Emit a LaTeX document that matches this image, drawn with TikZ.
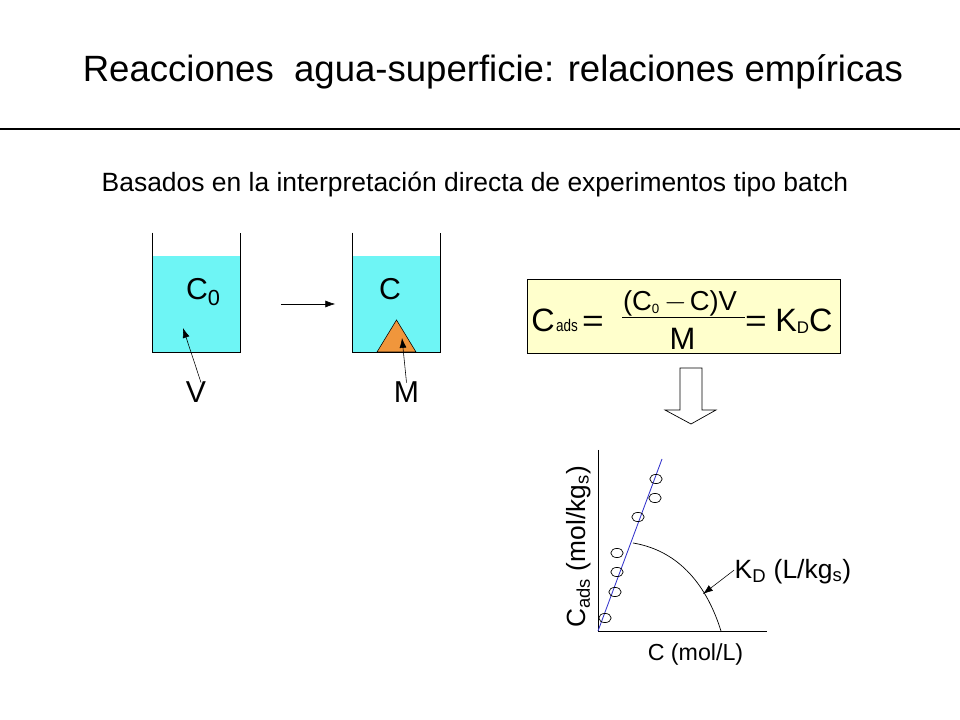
\documentclass[tikz,border=0pt]{standalone}
\usepackage{fontspec}
\setmainfont{Liberation Sans}
\usetikzlibrary{positioning,arrows,arrows.meta,calc}
\definecolor{watercol}{RGB}{110,245,245}
\definecolor{solidcol}{RGB}{240,150,60}
\definecolor{boxcol}{RGB}{255,255,204}
\definecolor{fitcol}{RGB}{51,51,204}

\begin{document}
\begin{tikzpicture}[x=0.025cm,y=-0.025cm,>={Latex[length=7pt,width=5pt]}]
\tikzstyle{title}=[font=\fontsize{26}{30}\selectfont,anchor=base]
\tikzstyle{subtitle}=[font=\fontsize{18.8}{22}\selectfont,anchor=base]
\tikzstyle{big}=[font=\fontsize{21.5}{25}\selectfont,anchor=base,inner sep=1pt]
\tikzstyle{lbl}=[font=\fontsize{16.5}{20}\selectfont,inner sep=1pt]
\tikzstyle{water}=[fill=watercol,minimum width=2.2cm,minimum height=2.4cm,inner sep=0pt]
\tikzstyle{formula}=[draw,fill=boxcol,minimum width=7.83cm,minimum height=1.85cm,inner sep=0pt]
\tikzstyle{term}=[font=\fontsize{23}{27}\selectfont,anchor=base,inner sep=0pt]
\tikzstyle{eqsign}=[font=\fontsize{22}{26}\selectfont,anchor=base,inner sep=0pt,xscale=1.2]
\useasboundingbox (0,0) rectangle (960,720);

\node[title] (tit) at (493,82) {Reacciones\ \ agua-superficie: relaciones empíricas};
\draw[line width=0.8pt] (0,129) -- (960,129);
\node[subtitle] (sub) at (475,192) {Basados en la interpretación directa de experimentos tipo batch};

\node[water] (w1) at (196.5,304) {};
\node[water] (w2) at (396.5,304) {};
\fill[solidcol,draw=black,line width=0.4pt] (396.5,320) -- (416,352) -- (377,352) -- cycle;
\foreach \w in {w1,w2}
  \draw[line width=0.7pt] ($(\w.north west)+(0,-23)$) -- (\w.south west) -- (\w.south east) -- ($(\w.north east)+(0,-23)$);

\node[big] (c0) at (203,300) {C\raisebox{-4pt}{\fontsize{15.5}{18}\selectfont 0}};
\node[big] (c) at (390,300) {C};
\node[big] (v) at (196,403) {V};
\node[big] (m) at (406.5,403) {M};
\coordinate (vtip) at (183,328);
\coordinate (mtip) at (402,338);
\draw[->] ($(v.north)+(5,2)$) -- (vtip);
\draw[->] ($(m.north)+(0,2)$) -- (mtip);
\draw[->] ($(w1.east)+(40,0)$) -- ($(w2.west)+(-17,0)$);

\node[formula] (eq) at (684,316.5) {};
\node[term,anchor=base west] (cads) at (531,332) {C\hspace{1pt}\scalebox{0.8}[1]{\fontsize{12}{14}\selectfont ads}};
\node[eqsign] (eq1) at (593,332) {=};
\node[term,font=\fontsize{19.5}{23}\selectfont] (num) at (680,311) {(C\raisebox{-2pt}{\fontsize{9.5}{10}\selectfont 0}\hspace{3.5pt}$-$\hspace{2pt}C)V};
\draw[line width=0.6pt] (622,317) -- (745,317);
\node[term,font=\fontsize{22}{26}\selectfont] (den) at (682.5,350) {M};
\node[eqsign] (eq2) at (756,332) {=};
\node[term,anchor=base west] (kdc) at (775,332) {K\raisebox{-1pt}{\fontsize{12}{14}\selectfont D}C};
\draw[fill=white,line width=0.5pt] (680,368) -- (702,368) -- (702,410) -- (716,410) -- (691,424) -- (665,410) -- (680,410) -- cycle;

\coordinate (o) at (598,631);
\draw[line width=0.6pt] (598,450) -- (o) -- (767,631);
\draw[fitcol,line width=0.6pt] (o) -- (662,459);
\foreach \px/\py in {605/618,615/592,617/572,617/553,638/517,655/498,656/479}
  \draw[line width=0.5pt] (\px,\py) ellipse (6.2 and 4.6);
\draw[line width=0.5pt] (633,543) .. controls (675,550) and (705,580) .. (721,631);

\node[lbl,anchor=base] (xlab) at (695.5,660) {C (mol/L)};
\node[lbl,font=\fontsize{18.7}{22}\selectfont,rotate=90,anchor=base] (ylab) at (585,547) {C\textsubscript{ads} (mol/kg\textsubscript{s})};
\node[lbl,font=\fontsize{18.8}{22}\selectfont,anchor=base west] (kd) at (733,578) {K\textsubscript{D} (L/kg\textsubscript{s})};
\coordinate (kdtip) at (703,594);
\draw[->] ($(kd.west)+(1,-1)$) -- (kdtip);
\end{tikzpicture}
\end{document}
